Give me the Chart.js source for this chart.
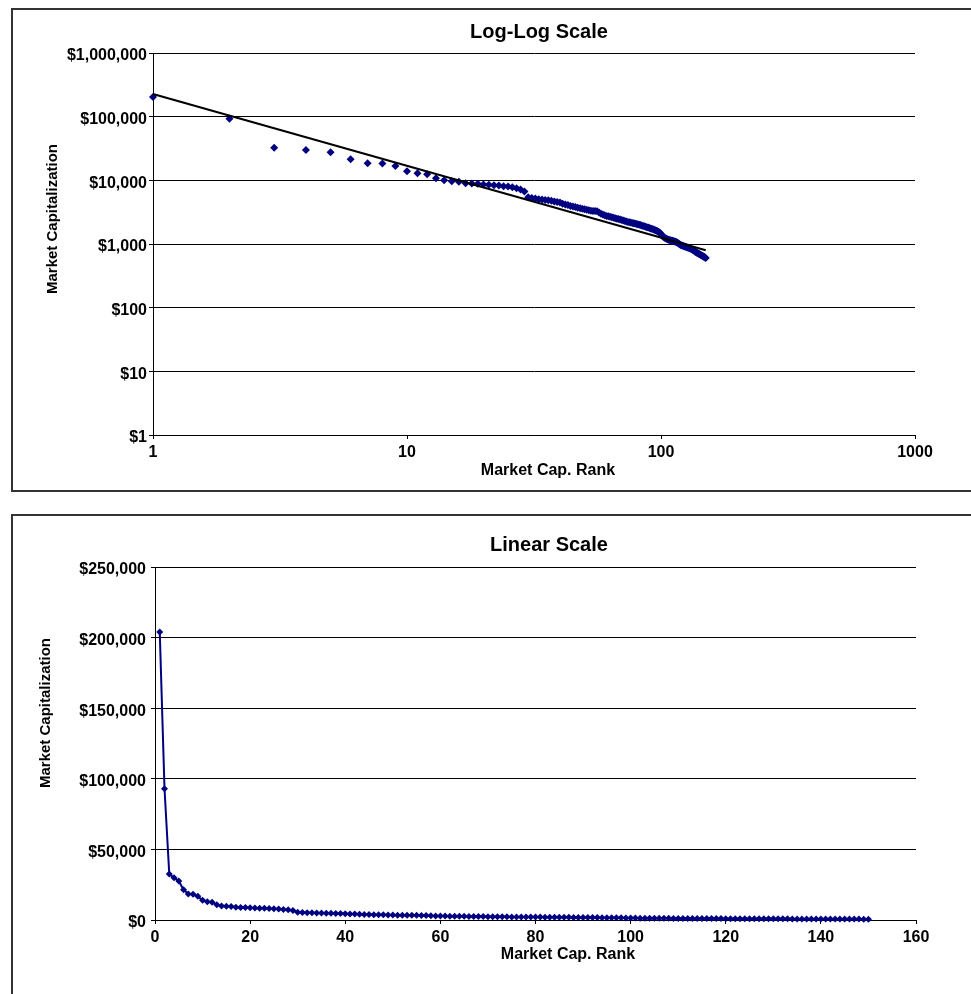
<!DOCTYPE html>
<html><head><meta charset="utf-8">
<script src="https://cdn.jsdelivr.net/npm/chart.js@4/dist/chart.umd.min.js"></script>
<style>
html,body{margin:0;padding:0;width:971px;height:994px;overflow:hidden;background:#fff;}
.box{position:absolute;border:2px solid #333;box-sizing:content-box;}
#box1{left:11px;top:8px;width:1100px;height:480px;}
#box2{left:11px;top:514px;width:1100px;height:600px;}
canvas{position:absolute;left:0;}
#c1{top:0}
#c2{top:500px}
</style></head><body>
<div class="box" id="box1"></div><div class="box" id="box2"></div>
<canvas id="c1" width="971" height="500"></canvas>
<canvas id="c2" width="971" height="494"></canvas>
<script>
const ranks = [1,2,3,4,5,6,7,8,9,10,11,12,13,14,15,16,17,18,19,20,21,22,23,24,25,26,27,28,29,30,
31,32,33,34,35,36,37,38,39,40,41,42,43,44,45,46,47,48,49,50,51,52,53,54,55,56,57,58,59,60,
61,62,63,64,65,66,67,68,69,70,71,72,73,74,75,76,77,78,79,80,81,82,83,84,85,86,87,88,89,90,
91,92,93,94,95,96,97,98,99,100,101,102,103,104,105,106,107,108,109,110,111,112,113,114,115,116,117,118,119,120,
121,122,123,124,125,126,127,128,129,130,131,132,133,134,135,136,137,138,139,140,141,142,143,144,145,146,147,148,149,150];

const marketCap = [
204000, 93000, 32500, 30000, 27600, 21400, 18500, 18300, 16800, 13900,
12900, 12500, 10800, 10000, 9700, 9500, 9000, 8900, 8800, 8600,
8500, 8400, 8300, 8100, 8000, 7800, 7500, 7200, 6700, 5420,
5300, 5180, 5050, 4990, 4920, 4850, 4800, 4660, 4560, 4470,
4300, 4180, 4080, 3950, 3870, 3800, 3720, 3650, 3580, 3500,
3450, 3390, 3340, 3310, 3290, 3270, 3120, 2990, 2900, 2820,
2760, 2720, 2680, 2630, 2590, 2540, 2500, 2460, 2420, 2380,
2330, 2290, 2250, 2220, 2200, 2170, 2140, 2120, 2090, 2060,
2040, 2010, 1980, 1950, 1920, 1900, 1870, 1840, 1810, 1780,
1750, 1730, 1700, 1670, 1640, 1610, 1580, 1540, 1500, 1430,
1350, 1300, 1260, 1230, 1210, 1190, 1170, 1160, 1145, 1130,
1120, 1110, 1095, 1085, 1075, 1050, 1025, 1000, 975, 955,
945, 935, 925, 915, 905, 895, 885, 875, 865, 855,
840, 825, 810, 795, 780, 765, 750, 735, 722, 710,
700, 690, 680, 668, 655, 645, 635, 625, 612, 600];

const trendRanks = [1, 150];
const trendValues = [227000, 800];

const logXTicks = [1, 10, 100, 1000];
const logYTicks = [1, 10, 100, 1000, 10000, 100000, 1000000];
const linXTicks = [0, 20, 40, 60, 80, 100, 120, 140, 160];
const linYTicks = [0, 50000, 100000, 150000, 200000, 250000];

const topTitle = 'Log-Log Scale';
const bottomTitle = 'Linear Scale';
const xTitle = 'Market Cap. Rank';
const yTitle = 'Market Capitalization';

const FONT = "'Liberation Sans', Arial, Helvetica, sans-serif";
const NAVY = '#000080';

const textPlugin = {
  id: 'texts',
  afterDraw(chart, args, opts) {
    const ctx = chart.ctx;
    (opts.items || []).forEach(t => {
      ctx.save();
      ctx.font = `bold ${t.size}px ${FONT}`;
      ctx.fillStyle = '#000';
      ctx.textAlign = 'center';
      ctx.textBaseline = 'middle';
      ctx.translate(t.x, t.y);
      if (t.rot) ctx.rotate(t.rot);
      ctx.fillText(t.text, 0, 0);
      ctx.restore();
    });
  }
};

const money = v => '$' + Number(v).toLocaleString('en-US');
const tickFont = {family: FONT, size: 16, weight: 'bold'};

function pts(xs, ys) { return xs.map((x, i) => ({x: x, y: ys[i]})); }

new Chart(document.getElementById('c1'), {
  type: 'scatter',
  data: {datasets: [
    {label: 'Trend', data: pts(trendRanks, trendValues), showLine: true, borderColor: '#000', borderWidth: 2,
     pointRadius: 0, fill: false, order: 0, clip: false},
    {label: 'Market Cap', data: pts(ranks, marketCap), pointStyle: 'rectRot', pointRadius: 4,
     backgroundColor: NAVY, borderColor: NAVY, borderWidth: 0, order: 1, clip: false}
  ]},
  options: {
    responsive: false, animation: false, devicePixelRatio: 1,
    layout: {padding: {left: 0, right: 56, top: 53, bottom: 0}},
    plugins: {legend: {display: false}, tooltip: {enabled: false},
      texts: {items: [
        {text: topTitle, x: 539, y: 32, size: 20},
        {text: xTitle, x: 548, y: 471, size: 16},
        {text: yTitle, x: 53, y: 219, size: 15, rot: -Math.PI / 2}
      ]}},
    scales: {
      x: {type: 'logarithmic', min: 1, max: 1000,
        afterBuildTicks: s => { s.ticks = logXTicks.map(v => ({value: v})); },
        afterFit: s => { s.height = 65; },
        grid: {drawOnChartArea: false, drawTicks: true, tickLength: 4, color: '#000'},
        border: {display: true, color: '#000', width: 1},
        ticks: {font: tickFont, color: '#000', padding: 4, maxRotation: 0, autoSkip: false, callback: v => String(v)}},
      y: {type: 'logarithmic', min: 1, max: 1000000,
        afterBuildTicks: s => { s.ticks = logYTicks.map(v => ({value: v})); },
        afterFit: s => { s.width = 153; },
        grid: {color: '#000', tickLength: 4, drawTicks: true},
        border: {display: true, color: '#000', width: 1},
        ticks: {font: tickFont, color: '#000', padding: 2, labelOffset: 3, autoSkip: false, callback: v => money(v)}}
    }
  },
  plugins: [textPlugin]
});

new Chart(document.getElementById('c2'), {
  type: 'scatter',
  data: {datasets: [
    {label: 'Market Cap', data: pts(ranks, marketCap), showLine: true, borderColor: NAVY, borderWidth: 2,
     pointStyle: 'rectRot', pointRadius: 3.5, backgroundColor: NAVY, pointBorderWidth: 0, clip: false}
  ]},
  options: {
    responsive: false, animation: false, devicePixelRatio: 1,
    layout: {padding: {left: 0, right: 55, top: 67, bottom: 0}},
    plugins: {legend: {display: false}, tooltip: {enabled: false},
      texts: {items: [
        {text: bottomTitle, x: 549, y: 45, size: 20},
        {text: xTitle, x: 568, y: 455, size: 16},
        {text: yTitle, x: 46, y: 213, size: 15, rot: -Math.PI / 2}
      ]}},
    scales: {
      x: {type: 'linear', min: 0, max: 160,
        afterBuildTicks: s => { s.ticks = linXTicks.map(v => ({value: v})); },
        afterFit: s => { s.height = 74; },
        grid: {drawOnChartArea: false, drawTicks: true, tickLength: 4, color: '#000'},
        border: {display: true, color: '#000', width: 1},
        ticks: {font: tickFont, color: '#000', padding: 4, maxRotation: 0, autoSkip: false, callback: v => String(v)}},
      y: {type: 'linear', min: 0, max: 250000,
        afterBuildTicks: s => { s.ticks = linYTicks.map(v => ({value: v})); },
        afterFit: s => { s.width = 155; },
        grid: {color: '#000', tickLength: 4, drawTicks: true},
        border: {display: true, color: '#000', width: 1},
        ticks: {font: tickFont, color: '#000', padding: 5, labelOffset: 3, autoSkip: false, callback: v => money(v)}}
    }
  },
  plugins: [textPlugin]
});
</script>
</body></html>
